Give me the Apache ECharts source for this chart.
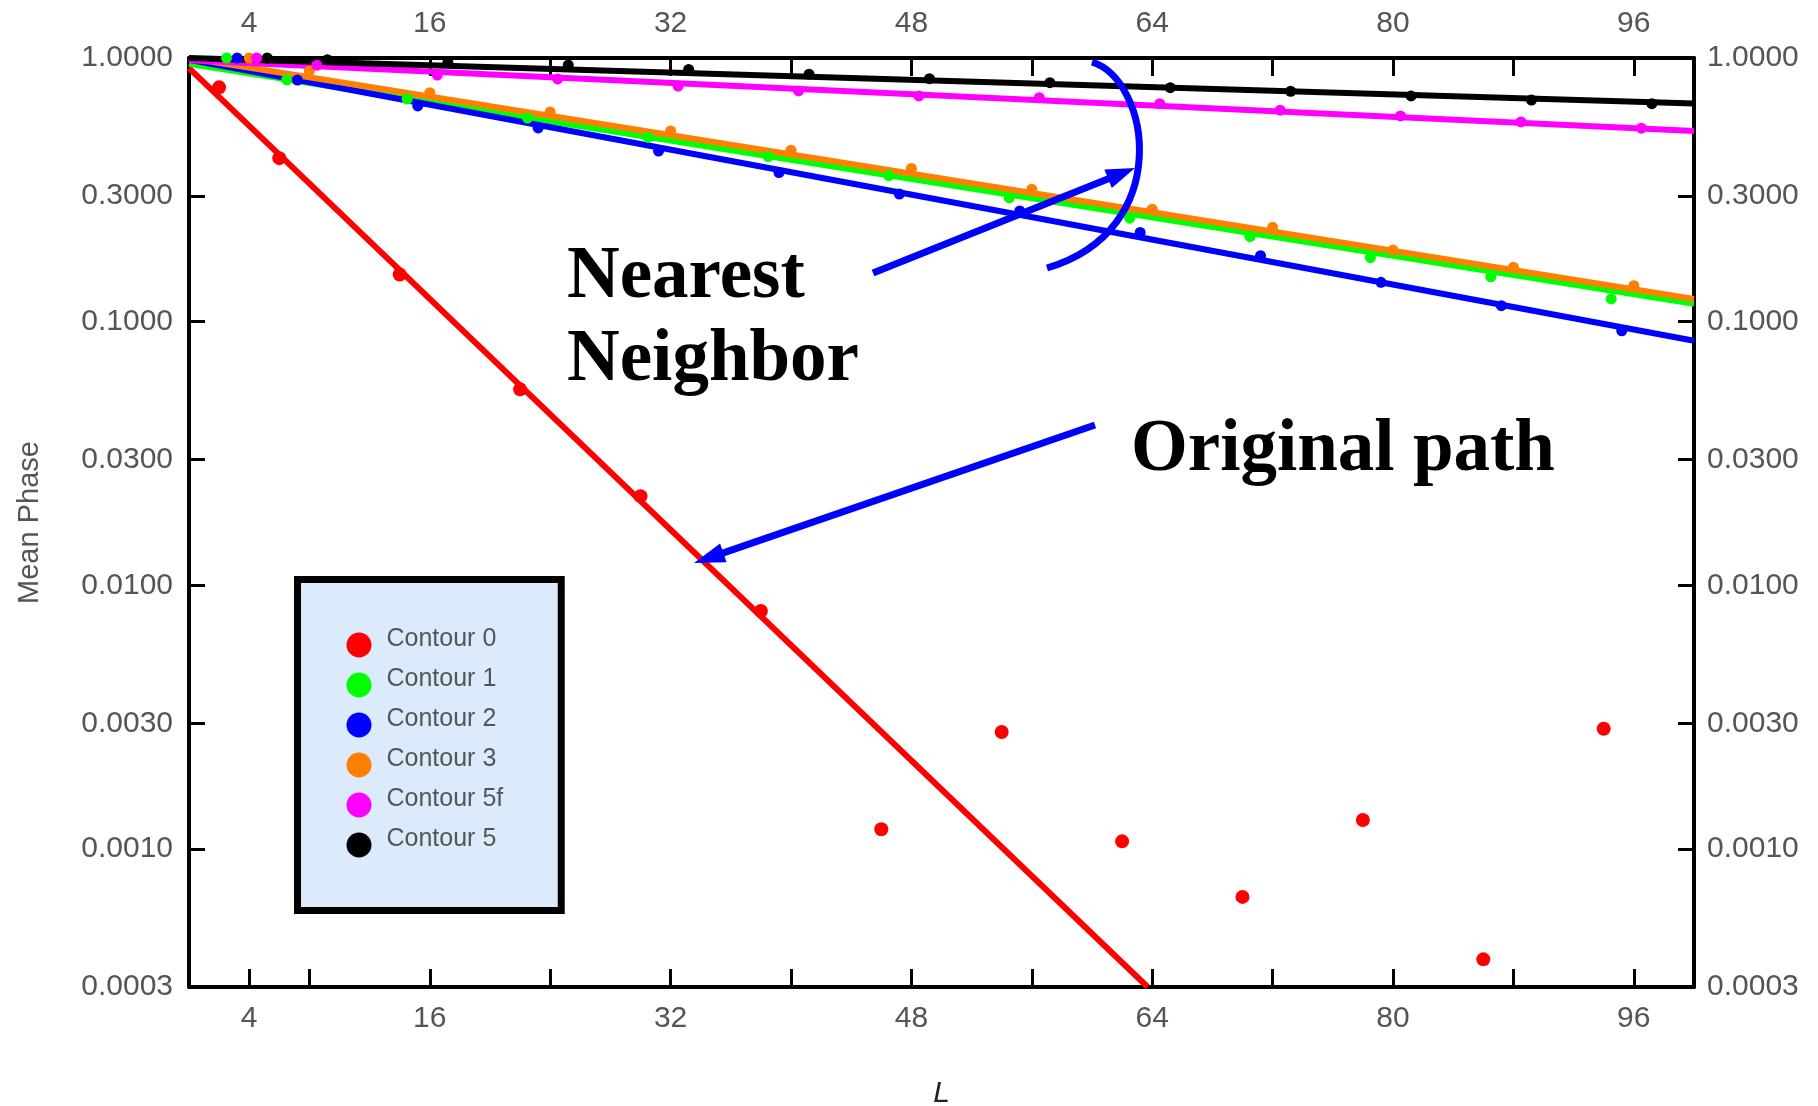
<!DOCTYPE html>
<html><head><meta charset="utf-8">
<script src="https://cdn.jsdelivr.net/npm/echarts@6/dist/echarts.min.js"></script>
<style>html,body{margin:0;padding:0;background:#fff}#chart{width:1818px;height:1106px}</style>
</head><body><div id="chart"></div>
<script>
// ---- axis ticks / labels ----
const xTickValues = [4, 8, 16, 24, 32, 40, 48, 56, 64, 72, 80, 88, 96];
const xLabelValues = [4, 16, 32, 48, 64, 80, 96];
const yTickValues = [0.0003, 0.001, 0.003, 0.01, 0.03, 0.1, 0.3, 1];

// ---- series ----
const seriesNames = ['Contour 0', 'Contour 1', 'Contour 2', 'Contour 3', 'Contour 5f', 'Contour 5'];
const seriesColors = ['#ff0000', '#00ff00', '#0000ff', '#ff8000', '#ff00ff', '#000000'];

const contour0L = [2, 6, 14, 22, 30, 38, 46, 54, 62, 70, 78, 86, 94];
const contour0Phase = [0.774, 0.417, 0.151, 0.0554, 0.0218, 0.0080, 0.00119, 0.00278, 0.00107, 0.000659, 0.00129, 0.000382, 0.00286];
const contour0Fit = [[0, 0.916], [63.7, 0.0003]];

const contour1L = [2.5, 6.5, 14.5, 22.5, 30.5, 38.5, 46.5, 54.5, 62.5, 70.5, 78.5, 86.5, 94.5];
const contour1Phase = [1.0, 0.827, 0.699, 0.592, 0.500, 0.423, 0.358, 0.295, 0.247, 0.210, 0.175, 0.148, 0.122];
const contour1Fit = [[0, 0.95], [100, 0.117]];

const contour2L = [3.2, 7.2, 15.2, 23.2, 31.2, 39.2, 47.2, 55.2, 63.2, 71.2, 79.2, 87.2, 95.2];
const contour2Phase = [1.0, 0.825, 0.658, 0.543, 0.444, 0.368, 0.305, 0.263, 0.218, 0.178, 0.141, 0.115, 0.0924];
const contour2Fit = [[0, 0.985], [100, 0.0847]];

const contour3L = [4, 8, 16, 24, 32, 40, 48, 56, 64, 72, 80, 88, 96];
const contour3Phase = [1.0, 0.893, 0.739, 0.624, 0.529, 0.447, 0.381, 0.318, 0.267, 0.228, 0.187, 0.161, 0.137];
const contour3Fit = [[0, 1.0], [100, 0.122]];

const contour5fL = [4.5, 8.5, 16.5, 24.5, 32.5, 40.5, 48.5, 56.5, 64.5, 72.5, 80.5, 88.5, 96.5];
const contour5fPhase = [1.0, 0.939, 0.862, 0.833, 0.783, 0.750, 0.718, 0.707, 0.671, 0.634, 0.603, 0.572, 0.542];
const contour5fFit = [[0, 0.98], [100, 0.529]];

const contour5L = [5.2, 9.2, 17.2, 25.2, 33.2, 41.2, 49.2, 57.2, 65.2, 73.2, 81.2, 89.2, 97.2];
const contour5Phase = [1.0, 0.985, 0.963, 0.94, 0.905, 0.868, 0.835, 0.806, 0.772, 0.748, 0.718, 0.693, 0.671];
const contour5Fit = [[0, 1.0], [100, 0.672]];

const contours = [
  {L: contour0L, phase: contour0Phase, fit: contour0Fit, size: 14},
  {L: contour1L, phase: contour1Phase, fit: contour1Fit, size: 11},
  {L: contour2L, phase: contour2Phase, fit: contour2Fit, size: 11},
  {L: contour3L, phase: contour3Phase, fit: contour3Fit, size: 11},
  {L: contour5fL, phase: contour5fPhase, fit: contour5fFit, size: 11},
  {L: contour5L, phase: contour5Phase, fit: contour5Fit, size: 11}
];

const chart = echarts.init(document.getElementById('chart'));

const labelFont = 'Liberation Sans, Arial, sans-serif';
const yTickLogs = yTickValues.map(v => Math.log10(v));
const yMinLog = Math.log10(yTickValues[0]);

function xAxisDef(pos, margin, extra) {
  return Object.assign({
    type: 'value', position: pos, min: 0, max: 100, gridIndex: 0,
    axisLine: {show: true, onZero: false, lineStyle: {color: '#000', width: 4}},
    axisTick: {show: true, inside: true, length: 18, customValues: xTickValues, lineStyle: {color: '#000', width: 3}},
    axisLabel: {show: true, customValues: xLabelValues, fontSize: 30, color: '#555', margin: margin, fontFamily: labelFont},
    splitLine: {show: false}
  }, extra || {});
}
function yLabelAxisDef(pos, margin, extra) {
  return Object.assign({
    type: 'value', position: pos, min: yMinLog, max: 0, gridIndex: 0,
    axisLine: {show: true, onZero: false, lineStyle: {color: '#000', width: 4}},
    axisTick: {show: true, inside: true, length: 16, customValues: yTickLogs, lineStyle: {color: '#000', width: 3}},
    axisLabel: {show: true, customValues: yTickLogs, fontSize: 30, color: '#555', margin: margin, fontFamily: labelFont,
      formatter: v => Math.pow(10, v).toFixed(4)},
    splitLine: {show: false}
  }, extra || {});
}

const scatterSeries = contours.map((c, i) => ({
  type: 'scatter', name: seriesNames[i], xAxisIndex: 0, yAxisIndex: 0,
  data: c.L.map((l, j) => [l, c.phase[j]]),
  symbol: 'circle', symbolSize: c.size,
  itemStyle: {color: seriesColors[i], opacity: 1}, clip: false, z: 4
}));
const lineSeries = contours.map((c, i) => ({
  type: 'line', name: seriesNames[i], xAxisIndex: 0, yAxisIndex: 0,
  data: c.fit, showSymbol: false, symbol: 'none',
  lineStyle: {color: seriesColors[i], width: 6}, itemStyle: {color: seriesColors[i]},
  z: 3, clip: true, silent: true
}));

function arrow(x1, y1, x2, y2, headLen, headHalf, lw, color) {
  const dx = x2 - x1, dy = y2 - y1, len = Math.hypot(dx, dy), ux = dx / len, uy = dy / len;
  const bx = x2 - ux * headLen, by = y2 - uy * headLen;
  return [
    {type: 'line', shape: {x1: x1, y1: y1, x2: bx + ux * 3, y2: by + uy * 3}, style: {stroke: color, lineWidth: lw}, z: 10},
    {type: 'polygon', shape: {points: [[x2, y2], [bx - uy * headHalf, by + ux * headHalf], [bx + uy * headHalf, by - ux * headHalf]]}, style: {fill: color}, z: 10}
  ];
}
const annFont = 'bold 73px "Liberation Serif", "Times New Roman", serif';
const annBlue = '#0000ff';

const option = {
  animation: false,
  backgroundColor: '#ffffff',
  grid: {left: 189, right: 124, top: 58, bottom: 119, containLabel: false, outerBoundsMode: 'none'},
  xAxis: [
    xAxisDef('bottom', 17, {name: 'L', nameLocation: 'middle', nameGap: 92,
      nameTextStyle: {fontSize: 30, fontStyle: 'italic', color: '#222', fontFamily: labelFont}}),
    xAxisDef('top', 19)
  ],
  yAxis: [
    {type: 'log', logBase: 10, min: 0.0003, max: 1, show: false, gridIndex: 0},
    yLabelAxisDef('left', 16, {name: 'Mean Phase', nameLocation: 'middle', nameGap: 145, nameRotate: 90,
      nameTextStyle: {fontSize: 29, color: '#555', fontFamily: labelFont}}),
    yLabelAxisDef('right', 13)
  ],
  legend: {
    data: seriesNames.map(n => ({name: n, icon: 'circle'})),
    formatter: name => name + '\n ',
    orient: 'vertical', left: 297.5, top: 579.5,
    padding: [47, 58, 47, 49], itemGap: 3, itemWidth: 25, itemHeight: 25,
    backgroundColor: '#dcebfc', borderColor: '#000', borderWidth: 7,
    itemStyle: {opacity: 1},
    textStyle: {fontSize: 25, color: '#555', fontFamily: labelFont, lineHeight: 12, padding: [0, 0, 0, 10]},
    selectedMode: false
  },
  series: scatterSeries.concat(lineSeries)
};
// annotation texts and arrows (layout only)
option.graphic = [
  {type: 'text', x: 567, y: 278, style: {text: 'Nearest', font: annFont, fill: '#000', align: 'left', verticalAlign: 'middle'}, z: 10},
  {type: 'text', x: 567, y: 361, style: {text: 'Neighbor', font: annFont, fill: '#000', align: 'left', verticalAlign: 'middle'}, z: 10},
  {type: 'text', x: 1131, y: 451, style: {text: 'Original path', font: annFont, fill: '#000', align: 'left', verticalAlign: 'middle'}, z: 10},
  {type: 'bezierCurve', shape: {x1: 1092, y1: 62, cpx1: 1150, cpy1: 80, cpx2: 1175, cpy2: 230, x2: 1047, y2: 268},
    style: {stroke: annBlue, lineWidth: 7, fill: null}, z: 10}
].concat(arrow(1095, 425, 694, 563, 31, 10, 7, annBlue))
 .concat(arrow(873, 273, 1135, 168, 29, 10, 7, annBlue));

chart.setOption(option);
</script>
</body></html>
